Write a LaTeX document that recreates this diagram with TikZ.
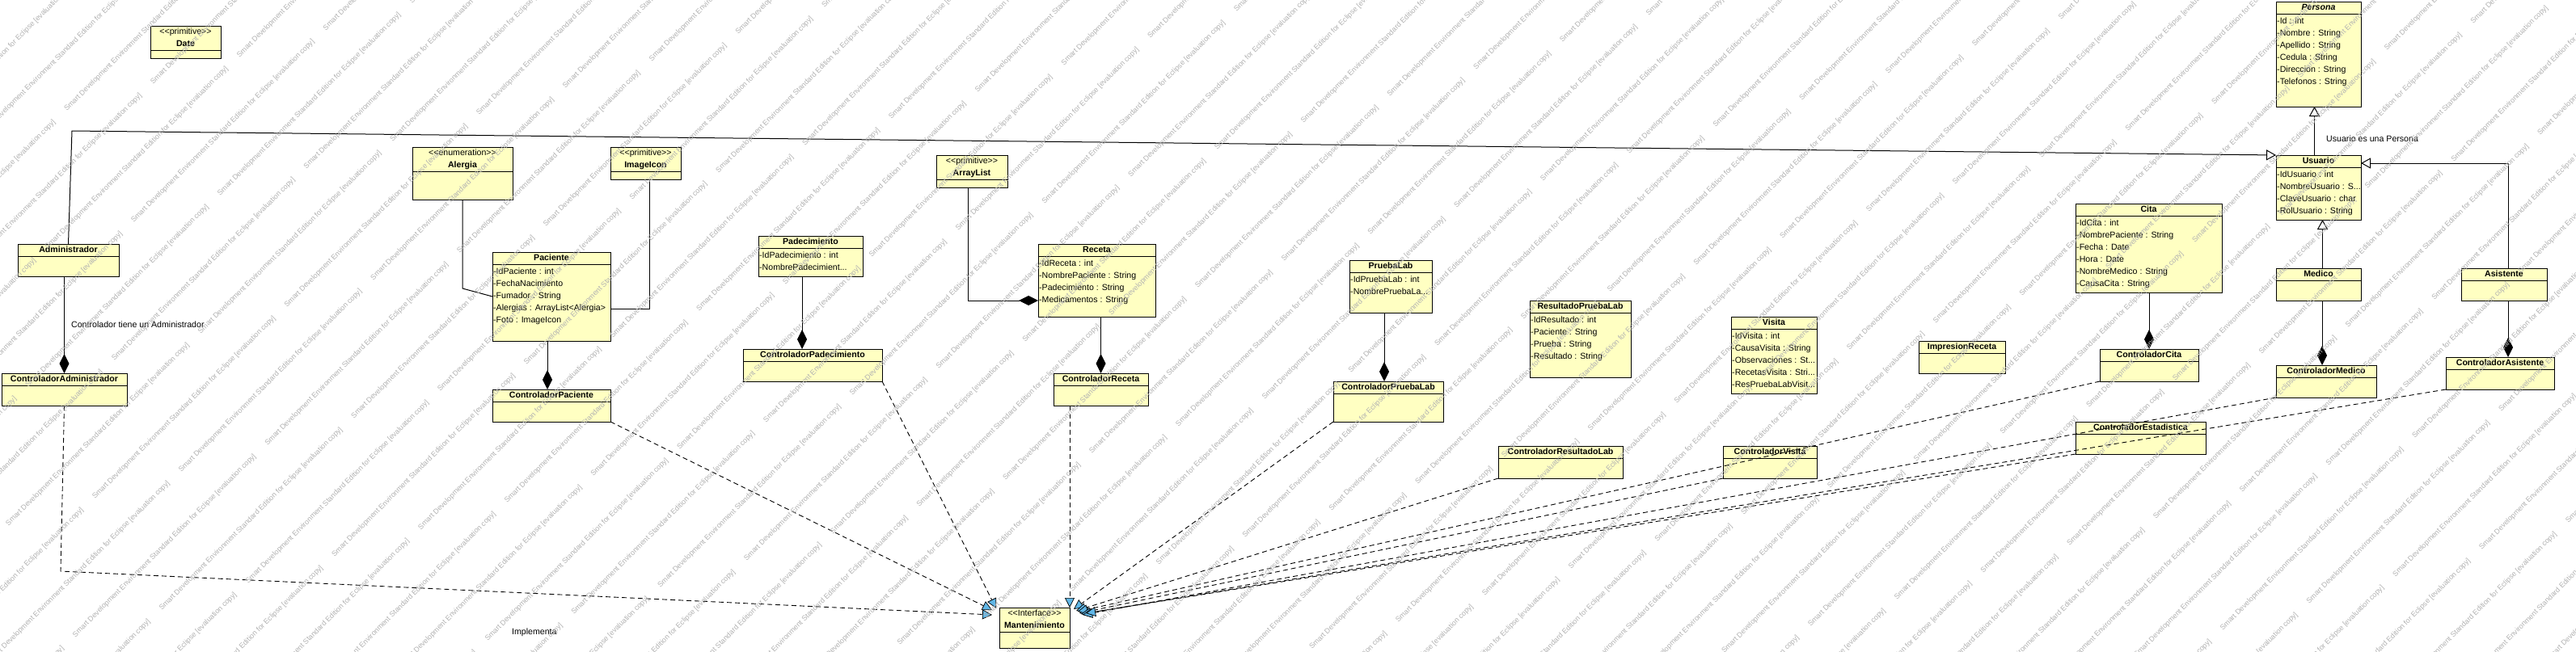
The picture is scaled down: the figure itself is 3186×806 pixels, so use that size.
\documentclass[tikz,border=0pt]{standalone}
\usepackage{fontspec}
\setmainfont{Liberation Sans}
\usetikzlibrary{arrows.meta,calc}
\definecolor{boxfill}{RGB}{255,255,194}
\definecolor{realblue}{RGB}{96,182,230}
\tikzset{
  ubox/.style={draw=black,fill=boxfill,line width=1pt,inner sep=0pt,outer sep=0pt},
  hline/.style={draw=black,line width=1pt},
  utitle/.style={font=\fontsize{10.6}{12}\selectfont\bfseries,inner sep=0pt,text height=7.6pt,text depth=2pt},
  ustereo/.style={font=\fontsize{10.6}{12}\selectfont,inner sep=0pt,text height=7.6pt,text depth=2pt},
  uattr/.style={font=\fontsize{10.6}{12}\selectfont,inner sep=0pt,anchor=west,text height=7.6pt,text depth=2pt},
  lbl/.style={font=\fontsize{10.6}{12}\selectfont,inner sep=0pt},
  assoc/.style={draw=black,line width=1pt},
  gen/.style={assoc,-{Triangle[fill=white,length=12pt,width=13pt,line width=1pt]}},
  comp/.style={assoc,-{Diamond[length=24pt,width=12pt]}},
  real/.style={draw=black,line width=0.9pt,dash pattern=on 6pt off 4pt,-{Triangle[fill=realblue,length=12pt,width=12pt,line width=0.7pt]}},
  wm/.style={font=\fontsize{9}{10}\selectfont,text=black!30,anchor=base west,rotate=45,inner sep=0pt},
}
\newcommand{\stereo}[1]{<{}<#1>{}>}
\newcommand{\wmtext}{Smart Development Environment Standard Edition for Eclipse [evaluation copy]}
\newcommand{\ucls}[7]{%
  \node[ubox,anchor=north west,minimum width={(#4-#2)*1pt},minimum height={(#5-#3)*1pt}] (#1) at (#2,#3) {};
  \draw[hline] (#2,{#3+#6}) -- (#4,{#3+#6});
  \node[utitle] at ({(#2+#4)/2},{#3+8}) {#7};}
\newcommand{\ucst}[7]{%
  \node[ubox,anchor=north west,minimum width={(#4-#2)*1pt},minimum height={(#5-#3)*1pt}] (#1) at (#2,#3) {};
  \draw[hline] (#2,{#3+30}) -- (#4,{#3+30});
  \node[ustereo] at ({(#2+#4)/2},{#3+8}) {\stereo{#6}};
  \node[utitle] at ({(#2+#4)/2},{#3+23}) {#7};}
\newcommand{\uat}[3]{\node[uattr] at ([xshift=1pt,yshift={-(25+15*#2)*1pt}]#1.north west) {#3};}
\begin{document}
\begin{tikzpicture}[x=1pt,y=-1pt]
\fill[white] (0,0) rectangle (3186,806);
\useasboundingbox (0,0) rectangle (3186,806);

% ---------- classes ----------
\ucst{Date}{186}{32}{273}{72}{primitive}{Date}
\ucls{Administrador}{22}{302}{147}{342}{15}{Administrador}
\ucls{CAdmin}{2}{462}{157}{502}{15}{ControladorAdministrador}
\ucst{Alergia}{510}{182}{634}{247}{enumeration}{Alergia}
\ucst{ImageIcon}{755}{182}{842}{222}{primitive}{ImageIcon}
\ucls{Paciente}{609}{312}{755}{422}{15}{Paciente}
\uat{Paciente}{0}{-IdPaciente : int}
\uat{Paciente}{1}{-FechaNacimiento}
\uat{Paciente}{2}{-Fumador : String}
\uat{Paciente}{3}{-Alergias : ArrayList<Alergia>}
\uat{Paciente}{4}{-Foto : ImageIcon}
\ucls{CPaciente}{609}{482}{755}{522}{15}{ControladorPaciente}
\ucls{Padecimiento}{938}{292}{1067}{342}{15}{Padecimiento}
\uat{Padecimiento}{0}{-IdPadecimiento : int}
\uat{Padecimiento}{1}{-NombrePadecimient...}
\ucls{CPadecimiento}{919}{432}{1091}{472}{15}{ControladorPadecimiento}
\ucst{ArrayList}{1158}{192}{1246}{232}{primitive}{ArrayList}
\ucls{Receta}{1284}{302}{1429}{392}{15}{Receta}
\uat{Receta}{0}{-IdReceta : int}
\uat{Receta}{1}{-NombrePaciente : String}
\uat{Receta}{2}{-Padecimiento : String}
\uat{Receta}{3}{-Medicamentos : String}
\ucls{CReceta}{1303}{462}{1420}{502}{15}{ControladorReceta}
\ucls{PruebaLab}{1669}{322}{1771}{387}{15}{PruebaLab}
\uat{PruebaLab}{0}{-IdPruebaLab : int}
\uat{PruebaLab}{1}{-NombrePruebaLa...}
\ucls{CPruebaLab}{1649}{472}{1785}{522}{15}{ControladorPruebaLab}
\ucls{Resultado}{1892}{372}{2017}{467}{15}{ResultadoPruebaLab}
\uat{Resultado}{0}{-IdResultado : int}
\uat{Resultado}{1}{-Paciente : String}
\uat{Resultado}{2}{-Prueba : String}
\uat{Resultado}{3}{-Resultado : String}
\ucls{CResultado}{1853}{552}{2007}{592}{15}{ControladorResultadoLab}
\ucls{Visita}{2141}{392}{2247}{487}{15}{Visita}
\uat{Visita}{0}{-IdVisita : int}
\uat{Visita}{1}{-CausaVisita : String}
\uat{Visita}{2}{-Observaciones : St...}
\uat{Visita}{3}{-RecetasVisita : Stri...}
\uat{Visita}{4}{-ResPruebaLabVisit...}
\ucls{CVisita}{2131}{552}{2247}{592}{15}{ControladorVisita}
\ucls{Impresion}{2373}{422}{2480}{462}{15}{ImpresionReceta}
\ucls{Cita}{2567}{252}{2748}{362}{15}{Cita}
\uat{Cita}{0}{-IdCita : int}
\uat{Cita}{1}{-NombrePaciente : String}
\uat{Cita}{2}{-Fecha : Date}
\uat{Cita}{3}{-Hora : Date}
\uat{Cita}{4}{-NombreMedico : String}
\uat{Cita}{5}{-CausaCita : String}
\ucls{CCita}{2597}{432}{2719}{472}{15}{ControladorCita}
\ucls{CEstad}{2567}{522}{2728}{562}{15}{ControladorEstadistica}
\ucls{Persona}{2815}{2}{2920}{132}{15}{\itshape Persona}
\uat{Persona}{0}{-Id : int}
\uat{Persona}{1}{-Nombre : String}
\uat{Persona}{2}{-Apellido : String}
\uat{Persona}{3}{-Cedula : String}
\uat{Persona}{4}{-Direccion : String}
\uat{Persona}{5}{-Telefonos : String}
\ucls{Usuario}{2815}{192}{2920}{272}{15}{Usuario}
\uat{Usuario}{0}{-IdUsuario : int}
\uat{Usuario}{1}{-NombreUsuario : S...}
\uat{Usuario}{2}{-ClaveUsuario : char}
\uat{Usuario}{3}{-RolUsuario : String}
\ucls{Medico}{2815}{332}{2920}{372}{15}{Medico}
\ucls{Asistente}{3044}{332}{3150}{372}{15}{Asistente}
\ucls{CMedico}{2815}{452}{2939}{492}{15}{ControladorMedico}
\ucls{CAsist}{3025}{442}{3159}{482}{15}{ControladorAsistente}
\ucst{Mant}{1236}{752}{1323}{802}{Interface}{Mantenimiento}

% ---------- generalizations ----------
\coordinate (g1) at (89,162);
\draw[gen] (Administrador.north) -- (g1) -- (Usuario.north west);
\draw[gen] ([xshift=-5pt]Usuario.north) -- ([xshift=-5pt]Persona.south);
\node[lbl,anchor=west] (lblUP) at (2877,172) {Usuario es una Persona};
\draw[gen] ([xshift=5pt]Medico.north) -- ([xshift=5pt]Usuario.south);
\draw[gen] ([xshift=5pt]Asistente.north) |- ($(Usuario.north east)+(0,10)$);

% ---------- associations ----------
\draw[assoc] (Alergia.south) -- ($(Alergia.south)+(0,110)$) -- ($(Paciente.north west)+(0,55)$);
\draw[assoc] ([xshift=4.5pt]ImageIcon.south) |- ($(Paciente.north east)+(0,70)$);

% ---------- compositions ----------
\draw[comp] (CAdmin.north |- Administrador.south) -- (CAdmin.north);
\node[lbl,anchor=west] (lblCA) at (88,402) {Controlador tiene un Administrador};
\draw[comp] ([xshift=-5pt]Paciente.south) -- ([xshift=-5pt]CPaciente.north);
\draw[comp] ([xshift=-10.5pt]Padecimiento.south) -- ([xshift=-13pt]CPadecimiento.north);
\draw[comp] ([xshift=-5pt]ArrayList.south) |- ($(Receta.south west)+(0,-20)$);
\draw[comp] (CReceta.north |- Receta.south) -- (CReceta.north);
\draw[comp] ([xshift=-8pt]PruebaLab.south) -- ([xshift=-5pt]CPruebaLab.north);
\draw[comp] (CCita.north |- Cita.south) -- (CCita.north);
\draw[comp] ([xshift=4.5pt]Medico.south) -- ([xshift=-5pt]CMedico.north);
\draw[comp] ([xshift=5pt]Asistente.south) -- ([xshift=10pt]CAsist.north);

% ---------- realizations ----------
\coordinate (r1) at (75,707);
\draw[real] (CAdmin.south) -- (r1) -- ($(Mant.north west)+(-9,9)$);
\node[lbl,anchor=west] (lblImp) at (633,783) {Implementa};
\draw[real] (CPaciente.south east) -- ($(Mant.north west)+(-9,3)$);
\draw[real] (CPadecimiento.south east) -- ($(Mant.north west)+(-4,1)$);
\draw[real] (Mant.north east |- CReceta.south) -- (Mant.north east);
\draw[real] (CPruebaLab.south west) -- ($(Mant.north east)+(5,2)$);
\draw[real] (CResultado.south west) -- ($(Mant.north east)+(8,4)$);
\draw[real] (CVisita.south west) -- ($(Mant.north east)+(12,7)$);
\draw[real] (CCita.south west) -- ($(Mant.north east)+(10,5)$);
\draw[real] (CEstad.south west) -- ($(Mant.north east)+(14,8)$);
\draw[real] (CMedico.south west) -- ($(Mant.north east)+(16,9)$);
\draw[real] (CAsist.south west) -- ($(Mant.north east)+(20,7)$);

% ---------- evaluation watermark ----------
\def\wmP{336}
\begin{scope}
\clip (0,0) rectangle (3186,806);
\foreach \k in {0,...,56}{
  \pgfmathsetmacro\wsh{mod(\k*99,\wmP)}
  \foreach \j in {-4,...,7}{
    \pgfmathsetmacro\wt{\j*\wmP+\wsh}
    \pgfmathsetmacro\wx{0.7071*(52*\k+\wt)}
    \pgfmathsetmacro\wy{0.7071*(52*\k-\wt)}
    \node[wm] (wm-\k-\j) at (\wx,\wy) {\wmtext};
  }}
\end{scope}
\end{tikzpicture}
\end{document}
